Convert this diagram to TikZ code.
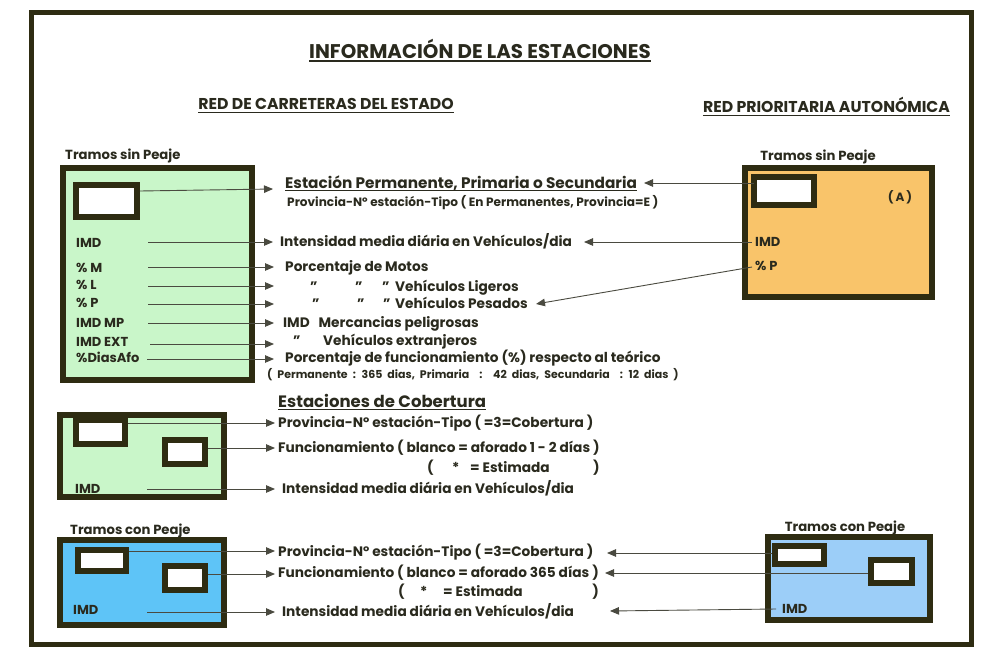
\documentclass[tikz,border=0pt]{standalone}
\usepackage{fontspec}
\setmainfont{Poppins}
\usetikzlibrary{arrows.meta}
\definecolor{frm}{HTML}{2E2C12}
\definecolor{ink}{HTML}{2A2A1E}
\definecolor{lgreen}{HTML}{C9F6C9}
\definecolor{orng}{HTML}{F9C46A}
\definecolor{blueA}{HTML}{5EC4F7}
\definecolor{blueB}{HTML}{9CCEF8}
\definecolor{lnc}{HTML}{4A4A40}
\begin{document}
\begin{tikzpicture}[x=1pt,y=-1pt,
  conn/.style={draw=lnc, line width=0.9pt, -{Triangle[length=9pt,width=7.5pt]}},
  boxst/.style={draw=frm, line width=6pt, inner sep=0pt, outer sep=0pt},
  wbox/.style={boxst, fill=white},
  txt/.style={anchor=base west, inner sep=0pt, text=ink, yshift=-4.7pt, font=\bfseries\fontsize{13.7}{15}\selectfont},
  lbl/.style={anchor=base west, inner sep=0pt, text=ink, yshift=-4.5pt, font=\bfseries\fontsize{13}{15}\selectfont},
  smalltxt/.style={anchor=base west, inner sep=0pt, text=ink, yshift=-4.2pt, font=\bfseries\fontsize{12.1}{14}\selectfont},
  tinytxt/.style={anchor=base west, inner sep=0pt, text=ink, yshift=-3.8pt, font=\bfseries\fontsize{11}{12}\selectfont},
  headtxt/.style={anchor=base west, inner sep=0pt, text=ink, yshift=-5.3pt, font=\bfseries\fontsize{15.3}{17}\selectfont},
  tramo/.style={anchor=base west, inner sep=0pt, text=ink, yshift=-4.5pt, font=\bfseries\fontsize{13.2}{15}\selectfont},
  tramoc/.style={anchor=base, inner sep=0pt, text=ink, yshift=-4.5pt, font=\bfseries\fontsize{13.2}{15}\selectfont},
  bighead/.style={anchor=base, inner sep=0pt, text=ink, yshift=-5.5pt, font=\bfseries\fontsize{15.7}{17}\selectfont},
  uline/.style={draw=ink, line width=1.1pt}
]
\useasboundingbox (0,0) rectangle (997,648);
\fill[white] (0,0) rectangle (997,648);
\draw[frm, line width=5pt] (31.5,12.5) rectangle (971.5,644);

% headings
\node[anchor=base, inner sep=0pt, text=ink, yshift=-7pt, font=\bfseries\fontsize{19.8}{22}\selectfont] (title) at (480,51) {INFORMACIÓN DE LAS ESTACIONES};
\draw[uline] ([yshift=-3pt]title.base west) -- ([yshift=-3pt]title.base east);
\node[bighead] (rce) at (326,104) {RED DE CARRETERAS DEL ESTADO};
\draw[uline] ([yshift=-3pt]rce.base west) -- ([yshift=-3pt]rce.base east);
\node[bighead] (rpa) at (826.5,107) {RED PRIORITARIA AUTONÓMICA};
\draw[uline] ([yshift=-3pt]rpa.base west) -- ([yshift=-3pt]rpa.base east);

% ---------- section 1 left
\node[tramo] (tsp1) at (65,155) {Tramos sin Peaje};
\node[boxst, fill=lgreen, minimum width=189pt, minimum height=212pt] (g1) at (157.5,274) {};
\node[wbox, minimum width=61pt, minimum height=32pt] (w1) at (106.5,201) {};
\node[lbl] (l1) at (76,243) {IMD};
\node[lbl] (l2) at (76,268) {\% M};
\node[lbl] (l3) at (76,285) {\% L};
\node[lbl] (l4) at (76,303) {\% P};
\node[lbl] (l5) at (76,323) {IMD MP};
\node[lbl] (l6) at (76,342) {IMD EXT};
\node[lbl] (l7) at (76,358) {\%DiasAfo};

\node[headtxt] (est) at (285,183) {Estación Permanente, Primaria o Secundaria};
\draw[uline] ([yshift=-2.5pt]est.base west) -- ([yshift=-2.5pt]est.base east);
\node[smalltxt] (prov) at (287,202) {Provincia-Nº estación-Tipo ( En Permanentes, Provincia=E~)};
\node[txt] (int1) at (280,242) {Intensidad media diária en Vehículos/dia};
\node[txt] (mot) at (285,267) {Porcentaje de Motos};
\node[txt] (lig) at (310,287) {\makebox[45pt][l]{"}\makebox[27pt][l]{"}\makebox[13pt][l]{"}Vehículos Ligeros};
\node[txt] (pes) at (312,304) {\makebox[45pt][l]{"}\makebox[26pt][l]{"}\makebox[12pt][l]{"}Vehículos Pesados};
\node[txt] (mp) at (283,323) {IMD\hspace{6pt} Mercancias peligrosas};
\node[txt] (ext) at (293,341) {\makebox[30pt][l]{"}Vehículos extranjeros};
\node[txt] (func) at (285,358) {Porcentaje de funcionamiento (\%) respecto al teórico};
\node[tinytxt] (perm) at (267,375) {\spaceskip=5pt\relax ( Permanente : 365 dias, Primaria~ : ~42 dias, Secundaria~ : 12 dias )};

\coordinate (s0) at (140,191); \coordinate (e0) at (273,189);
\coordinate (s1) at (148,242); \coordinate (e1) at (273,242);
\coordinate (s2) at (148,267); \coordinate (e2) at (274,267);
\coordinate (s3) at (148,286); \coordinate (e3) at (274,286);
\coordinate (s4) at (148,304); \coordinate (e4) at (274,304);
\coordinate (s5) at (148,323); \coordinate (e5) at (274,323);
\coordinate (s6) at (150,344); \coordinate (e6) at (274,344);
\coordinate (s7) at (147,359); \coordinate (e7) at (274,359);
\foreach \i in {0,...,7} {\draw[conn] (s\i) -- (e\i);}

% ---------- section 1 right (orange)
\node[tramoc] (tsp2) at (818,156) {Tramos sin Peaje};
\node[boxst, fill=orng, minimum width=187pt, minimum height=129pt] (o1) at (838.5,232.5) {};
\node[wbox, minimum width=60pt, minimum height=28pt] (ow1) at (784,191) {};
\node[anchor=base, inner sep=0pt, text=ink, yshift=-4.2pt, font=\bfseries\fontsize{12}{14}\selectfont] (aa) at (900,197) {(\,A\,)};
\node[lbl] (ol1) at (755,242) {IMD};
\node[lbl] (ol2) at (755,266) {\% P};
\coordinate (os0) at (754,183); \coordinate (oe0) at (644,183);
\coordinate (os1) at (752,242); \coordinate (oe1) at (584,242);
\coordinate (os2) at (752,267); \coordinate (oe2) at (536,304);
\foreach \i in {0,1,2} {\draw[conn] (os\i) -- (oe\i);}

% ---------- cobertura
\node[boxst, fill=lgreen, minimum width=164pt, minimum height=82pt] (g2) at (142,456) {};
\node[wbox, minimum width=49pt, minimum height=24pt] (g2a) at (100.5,432) {};
\node[wbox, minimum width=40pt, minimum height=24pt] (g2b) at (185,452) {};
\node[lbl] (cl) at (75,489) {IMD};
\node[headtxt, font=\bfseries\fontsize{16.5}{18}\selectfont] (cob) at (278,402) {Estaciones de Cobertura};
\draw[uline] ([yshift=-2.5pt]cob.base west) -- ([yshift=-2.5pt]cob.base east);
\node[txt] (c1) at (278,423) {Provincia-Nº estación-Tipo ( =3=Cobertura )};
\node[txt] (c2) at (278,448) {Funcionamiento ( blanco = aforado 1 - 2 días )};
\node[txt] (c3) at (427,468) {\makebox[25pt][l]{(}\makebox[18pt][l]{*}= Estimada};
\node[txt, anchor=base east] (c3b) at (c2.base east |- 0,468) {)};
\node[txt] (c4) at (282,489) {Intensidad media diária en Vehículos/dia};
\coordinate (cs1) at (128,423); \coordinate (ce1) at (275,423);
\coordinate (cs2) at (208,448); \coordinate (ce2) at (275,448);
\coordinate (cs3) at (147,489); \coordinate (ce3) at (275,489);
\foreach \i in {1,2,3} {\draw[conn] (cs\i) -- (ce\i);}

% ---------- peaje left
\node[tramo] (tcp1) at (70,530) {Tramos con Peaje};
\node[boxst, fill=blueA, minimum width=164pt, minimum height=85pt] (b1) at (142,582.5) {};
\node[wbox, minimum width=48pt, minimum height=21pt] (b1a) at (102,560.5) {};
\node[wbox, minimum width=40pt, minimum height=24pt] (b1b) at (185,578) {};
\node[lbl] (bl) at (73,610) {IMD};
\node[txt] (d1) at (278,552) {Provincia-Nº estación-Tipo ( =3=Cobertura )};
\node[txt] (d2) at (278,573) {Funcionamiento ( blanco = aforado 365 días )};
\node[txt] (d3) at (398,592) {\makebox[22pt][l]{(}\makebox[23pt][l]{*}= Estimada};
\node[txt, anchor=base east] (d3b) at (d2.base east |- 0,592) {)};
\node[txt] (d4) at (282,612) {Intensidad media diária en Vehículos/dia};
\coordinate (ds1) at (129,551); \coordinate (de1) at (275,551);
\coordinate (ds2) at (208,574); \coordinate (de2) at (275,574);
\coordinate (ds3) at (147,612); \coordinate (de3) at (275,612);
\foreach \i in {1,2,3} {\draw[conn] (ds\i) -- (de\i);}

% ---------- peaje right
\node[tramoc] (tcp2) at (845,527) {Tramos con Peaje};
\node[boxst, fill=blueB, minimum width=162pt, minimum height=83pt] (b2) at (849,578.5) {};
\node[wbox, minimum width=49pt, minimum height=18pt] (b2a) at (799.5,555) {};
\node[wbox, minimum width=41pt, minimum height=23pt] (b2b) at (891.5,571.5) {};
\node[lbl] (brl) at (782,609) {IMD};
\coordinate (rs1) at (772,553); \coordinate (re1) at (607,553);
\coordinate (rs2) at (868,573); \coordinate (re2) at (605,573);
\coordinate (rs3) at (776,609); \coordinate (re3) at (610,611);
\foreach \i in {1,2,3} {\draw[conn] (rs\i) -- (re\i);}
\end{tikzpicture}
\end{document}
